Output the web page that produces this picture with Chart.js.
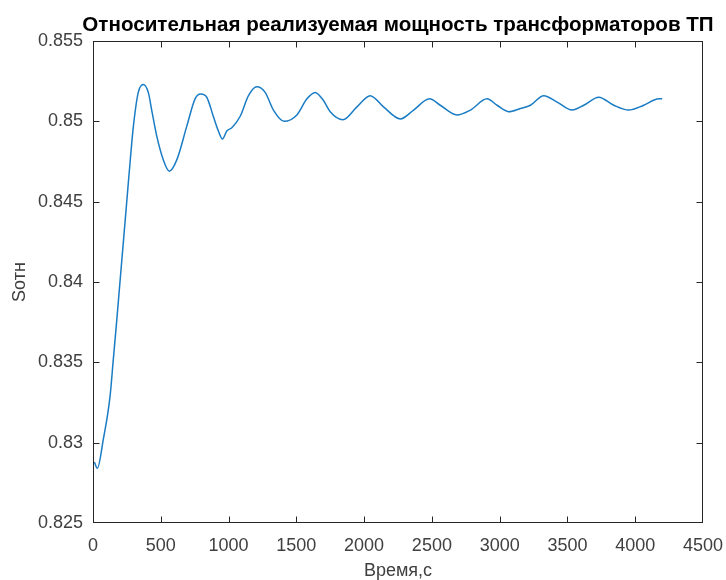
<!DOCTYPE html>
<html lang="ru">
<head>
<meta charset="utf-8">
<title>Относительная реализуемая мощность трансформаторов ТП</title>
<script src="https://cdn.jsdelivr.net/npm/chart.js@4.4.1/dist/chart.umd.min.js"></script>
<style>
  html, body { margin: 0; padding: 0; background: #ffffff; }
  canvas { display: block; }
</style>
</head>
<body>
<canvas id="plot" width="726" height="580"></canvas>
<script>
// Time samples, s
const timeSec = [10, 32, 76, 126, 150, 175, 199, 224, 249, 274, 298, 334, 371, 408, 433, 470, 519, 563,
  618, 692, 753, 795, 839, 888, 925, 955, 987, 1024, 1085, 1147, 1209, 1270, 1331, 1410, 1504, 1578,
  1639, 1700, 1750, 1844, 1947, 2045, 2143, 2267, 2365, 2483, 2562, 2685, 2784, 2907, 2981, 3066,
  3153, 3227, 3325, 3424, 3534, 3620, 3731, 3842, 3952, 4063, 4174, 4199];

// Relative realised power of the substation transformers, p.u.
const sOtn = [0.8288, 0.8284, 0.8302, 0.8329, 0.8352, 0.8376, 0.8400, 0.8425, 0.8450, 0.8475, 0.8497,
  0.8518, 0.8523, 0.8518, 0.8507, 0.8491, 0.8476, 0.8469, 0.8476, 0.8497, 0.8514, 0.8517, 0.8515,
  0.8503, 0.8494, 0.8489, 0.8494, 0.8496, 0.8503, 0.8516, 0.85215, 0.8518, 0.8507, 0.8500, 0.8504,
  0.8514, 0.8518, 0.8513, 0.8506, 0.8501, 0.8509, 0.8516, 0.8509, 0.85015, 0.8507, 0.8514, 0.8510,
  0.8504, 0.8507, 0.8514, 0.8510, 0.8506, 0.8508, 0.8510, 0.8516, 0.8512, 0.8507, 0.8510, 0.8515,
  0.8510, 0.8507, 0.8510, 0.8514, 0.8514];

// Axis ticks
const xTicks = [0, 500, 1000, 1500, 2000, 2500, 3000, 3500, 4000, 4500];
const yTicks = [0.825, 0.83, 0.835, 0.84, 0.845, 0.85, 0.855];

const titleText = 'Относительная реализуемая мощность трансформаторов ТП';
const xLabel = 'Время,с';
const yLabel = 'Sотн';

const FONT = '"Liberation Sans", Arial, Helvetica, sans-serif';
const AXIS_COLOR = '#262626';
const LABEL_COLOR = '#404040';

// Box around the axes with inward tick marks on all four sides
const frameTicks = {
  id: 'frameTicks',
  afterDatasetsDraw(chart) {
    const { ctx, chartArea: a, scales: { x, y } } = chart;
    const L = 6;
    const left = Math.round(a.left) + 0.5, right = Math.round(a.right) - 0.5;
    const top = Math.round(a.top) + 0.5, bottom = Math.round(a.bottom) - 0.5;
    ctx.save();
    ctx.strokeStyle = AXIS_COLOR;
    ctx.lineWidth = 1;
    ctx.beginPath();
    x.ticks.forEach(t => {
      const px = Math.min(right, Math.max(left, Math.round(x.getPixelForValue(t.value)) + 0.5));
      ctx.moveTo(px, bottom); ctx.lineTo(px, bottom - L);
      ctx.moveTo(px, top); ctx.lineTo(px, top + L);
    });
    y.ticks.forEach(t => {
      const py = Math.min(bottom, Math.max(top, Math.round(y.getPixelForValue(t.value)) + 0.5));
      ctx.moveTo(left, py); ctx.lineTo(left + L, py);
      ctx.moveTo(right, py); ctx.lineTo(right - L, py);
    });
    ctx.stroke();
    ctx.strokeRect(left, top, right - left, bottom - top);
    ctx.restore();
  }
};

// Bold title centred over the axes box
const axesTitle = {
  id: 'axesTitle',
  afterDraw(chart) {
    const { ctx, chartArea: a } = chart;
    ctx.save();
    ctx.fillStyle = '#000000';
    ctx.font = 'bold 20.6px ' + FONT;
    ctx.textAlign = 'center';
    ctx.textBaseline = 'middle';
    ctx.fillText(titleText, (a.left + a.right) / 2, 25);
    ctx.restore();
  }
};

new Chart(document.getElementById('plot'), {
  type: 'line',
  data: {
    datasets: [{
      data: timeSec.map((t, i) => ({ x: t, y: sOtn[i] })),
      borderColor: '#1a7cc4',
      borderWidth: 1.5,
      pointRadius: 0,
      fill: false,
      cubicInterpolationMode: 'monotone'
    }]
  },
  options: {
    responsive: false,
    animation: false,
    devicePixelRatio: 1,
    layout: { autoPadding: false, padding: { left: 0, right: 23, top: 41, bottom: 0 } },
    plugins: {
      legend: { display: false },
      tooltip: { enabled: false },
      title: { display: false }
    },
    scales: {
      x: {
        type: 'linear',
        min: 0,
        max: 4500,
        afterBuildTicks: s => { s.ticks = xTicks.map(v => ({ value: v })); },
        afterFit: s => { s.height = 57; s.paddingLeft = 0; s.paddingRight = 0; },
        grid: { display: false, drawTicks: false },
        border: { display: false },
        ticks: {
          padding: 12,
          color: LABEL_COLOR,
          font: { family: FONT, size: 18 },
          maxRotation: 0,
          callback: v => String(v)
        },
        title: {
          display: true,
          text: xLabel,
          color: LABEL_COLOR,
          font: { family: FONT, size: 18, lineHeight: 1 },
          padding: { top: 0, bottom: 0 }
        }
      },
      y: {
        type: 'linear',
        min: 0.825,
        max: 0.855,
        afterBuildTicks: s => { s.ticks = yTicks.map(v => ({ value: v })); },
        afterFit: s => { s.width = 93; s.paddingTop = 0; s.paddingBottom = 0; },
        grid: { display: false, drawTicks: false },
        border: { display: false },
        ticks: {
          padding: 10,
          color: LABEL_COLOR,
          font: { family: FONT, size: 18 },
          callback: v => String(parseFloat(Number(v).toFixed(3)))
        },
        title: {
          display: true,
          text: yLabel,
          color: LABEL_COLOR,
          font: { family: FONT, size: 18, lineHeight: 1 },
          padding: { top: 11, bottom: 0 }
        }
      }
    }
  },
  plugins: [frameTicks, axesTitle]
});
</script>
</body>
</html>
